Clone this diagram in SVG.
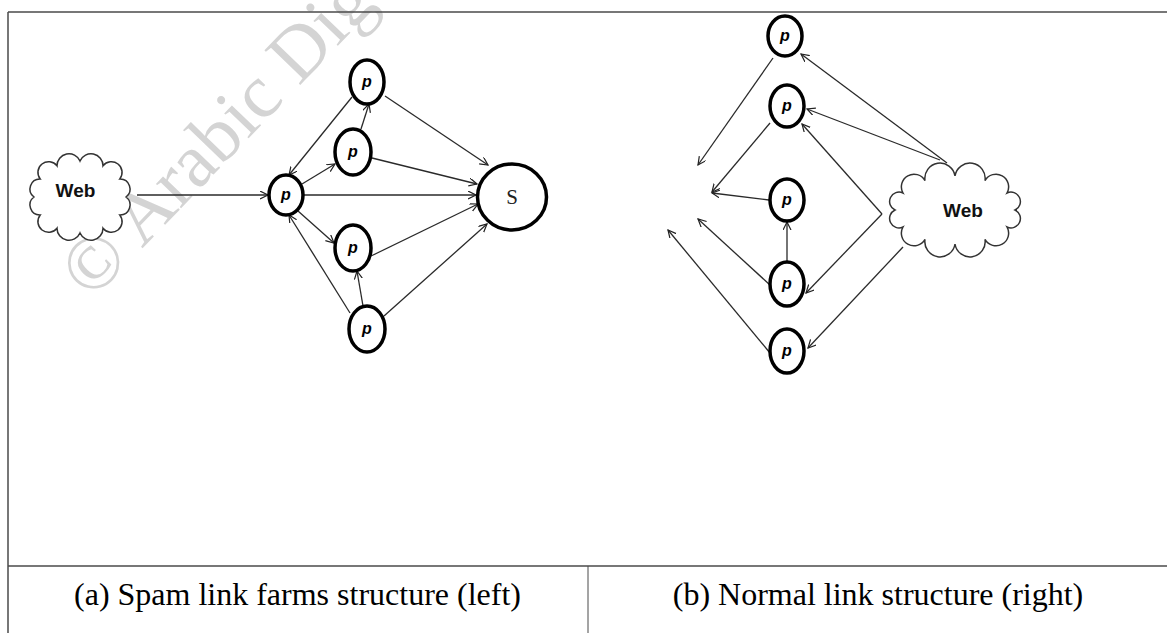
<svg xmlns="http://www.w3.org/2000/svg" width="1167" height="633" viewBox="0 0 1167 633">
<style>
.frame{stroke:#4a4a4a;stroke-width:1.5;fill:none}
.edge{stroke:#2a2a2a;stroke-width:1.3;fill:none;marker-end:url(#arr)}
.node{fill:#fff;stroke:#000;stroke-width:3.5}
.cloud{fill:#fff;stroke:#333;stroke-width:1.5}
.p{font-family:"Liberation Sans",Arial,sans-serif;font-weight:bold;font-style:italic;font-size:16px;fill:#000;text-anchor:middle}
.web{font-family:"Liberation Sans",Arial,sans-serif;font-weight:bold;font-size:19px;fill:#111;text-anchor:middle}
.cap{font-family:"Liberation Serif","Times New Roman",serif;font-size:32px;fill:#000;text-anchor:middle}
</style>
<defs>
<marker id="arr" markerWidth="10" markerHeight="10" refX="8" refY="4" orient="auto" markerUnits="userSpaceOnUse">
<path d="M0,0 L8,4 L0,8" fill="none" stroke="#222" stroke-width="1.2"/>
</marker>
</defs>
<rect width="1167" height="633" fill="#fff"/>
<text x="0" y="0" transform="translate(91.5,301) rotate(-46)" font-family="Liberation Serif,serif" font-size="76" fill="#d4d4d4">© Arabic Dig</text>
<g id="frame">
<line class="frame" x1="8" y1="12" x2="1167" y2="12"/>
<line class="frame" x1="8" y1="12" x2="8" y2="633"/>
<line class="frame" x1="8" y1="566" x2="1167" y2="566"/>
<line class="frame" x1="588" y1="566" x2="588" y2="633" style="stroke-width:1"/>
</g>
<g id="connectors">
<line class="edge" x1="137" y1="195" x2="268" y2="195"/>
<line class="edge" x1="304" y1="195" x2="476" y2="195"/>
<line class="edge" x1="302" y1="184" x2="335" y2="164"/>
<line class="edge" x1="361" y1="129" x2="369" y2="104"/>
<line class="edge" x1="352" y1="97" x2="289" y2="175"/>
<line class="edge" x1="385" y1="96" x2="488" y2="165"/>
<line class="edge" x1="372" y1="158" x2="477" y2="184"/>
<line class="edge" x1="298" y1="211" x2="334" y2="243"/>
<line class="edge" x1="371" y1="256" x2="478" y2="204"/>
<line class="edge" x1="363" y1="306" x2="357" y2="271"/>
<line class="edge" x1="350" y1="313" x2="289" y2="215"/>
<line class="edge" x1="384" y1="316" x2="487" y2="224"/>
<line class="edge" x1="773" y1="58" x2="698" y2="165"/>
<line class="edge" x1="770" y1="123" x2="712" y2="192"/>
<line class="edge" x1="769" y1="200" x2="712" y2="193"/>
<line class="edge" x1="787" y1="262" x2="787" y2="222"/>
<line class="edge" x1="770" y1="285" x2="698" y2="219"/>
<line class="edge" x1="770" y1="353" x2="668" y2="230"/>
<line class="edge" x1="947" y1="163" x2="801" y2="54"/>
<line class="edge" x1="940" y1="160" x2="807" y2="109"/>
<line class="edge" x1="882" y1="214" x2="802" y2="124"/>
<line class="edge" x1="882" y1="214" x2="806" y2="293"/>
<line class="edge" x1="903" y1="247" x2="808" y2="348"/>
</g>
<g id="web-left">
<path class="cloud" d="M126,197 A10,10 0 0 1 119.8,215 A10,10 0 0 1 103,228.2 A12,12 0 0 1 80,233 A12,12 0 0 1 57,228.2 A10,10 0 0 1 40.2,215 A10,10 0 0 1 34,197 A10,10 0 0 1 40.2,179 A10,10 0 0 1 57,165.8 A12,12 0 0 1 80,161 A12,12 0 0 1 103,165.8 A10,10 0 0 1 119.8,179 A10,10 0 0 1 126,197 Z"/>
<text class="web" x="75.5" y="197">Web</text>
</g>
<g id="p0"><ellipse class="node" cx="286" cy="195" rx="17" ry="20"/><text class="p" x="286" y="200">p</text></g>
<g id="p1"><ellipse class="node" cx="367" cy="82" rx="17" ry="22"/><text class="p" x="367" y="87">p</text></g>
<g id="p2"><ellipse class="node" cx="353" cy="152" rx="18" ry="23"/><text class="p" x="353" y="157">p</text></g>
<g id="p3"><ellipse class="node" cx="353" cy="248" rx="18" ry="23"/><text class="p" x="353" y="253">p</text></g>
<g id="p4"><ellipse class="node" cx="367" cy="329" rx="18" ry="23"/><text class="p" x="367" y="334">p</text></g>
<g id="s"><ellipse class="node" cx="512" cy="197" rx="34.5" ry="33"/><text x="512" y="204" font-family="Liberation Serif,serif" font-size="21" text-anchor="middle" fill="#222">S</text></g>
<g id="web-right">
<path class="cloud" d="M1015,210 A9,9 0 0 1 1007,227 A9,9 0 0 1 985,239.4 A9,9 0 0 1 955,244 A9,9 0 0 1 925,239.4 A9,9 0 0 1 903,227 A9,9 0 0 1 895,210 A9,9 0 0 1 903,193 A9,9 0 0 1 925,180.6 A9,9 0 0 1 955,176 A9,9 0 0 1 985,180.6 A9,9 0 0 1 1007,193 A9,9 0 0 1 1015,210 Z"/>
<text class="web" x="963" y="217">Web</text>
</g>
<g id="r1"><ellipse class="node" cx="785" cy="36" rx="17" ry="20"/><text class="p" x="785" y="41">p</text></g>
<g id="r2"><ellipse class="node" cx="787" cy="106" rx="17" ry="21"/><text class="p" x="787" y="111">p</text></g>
<g id="r3"><ellipse class="node" cx="787" cy="200" rx="17" ry="21"/><text class="p" x="787" y="205">p</text></g>
<g id="r4"><ellipse class="node" cx="787" cy="284" rx="17" ry="22"/><text class="p" x="787" y="289">p</text></g>
<g id="r5"><ellipse class="node" cx="787" cy="351" rx="17" ry="22"/><text class="p" x="787" y="356">p</text></g>
<g id="captions">
<text class="cap" x="297.5" y="605">(a) Spam link farms structure (left)</text>
<text class="cap" x="878" y="605">(b) Normal link structure (right)</text>
</g>
</svg>
